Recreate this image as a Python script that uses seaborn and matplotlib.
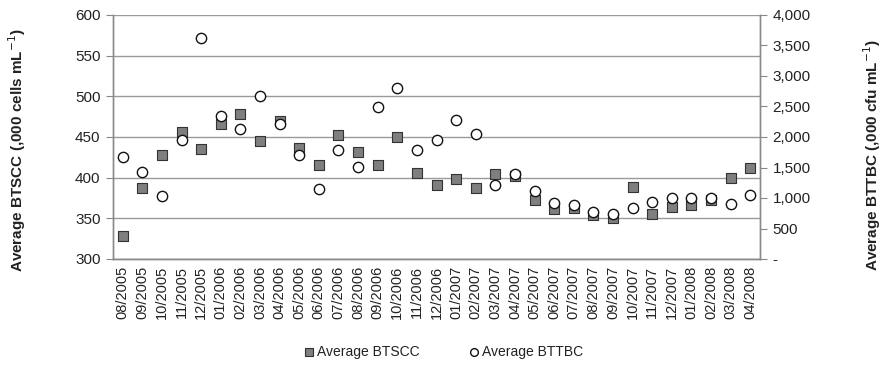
import matplotlib
matplotlib.use("Agg")
import matplotlib.pyplot as plt
import matplotlib.ticker as mticker
import seaborn as sns
import pandas as pd

months = ["08/2005", "09/2005", "10/2005", "11/2005", "12/2005", "01/2006", "02/2006",
          "03/2006", "04/2006", "05/2006", "06/2006", "07/2006", "08/2006", "09/2006",
          "10/2006", "11/2006", "12/2006", "01/2007", "02/2007", "03/2007", "04/2007",
          "05/2007", "06/2007", "07/2007", "08/2007", "09/2007", "10/2007", "11/2007",
          "12/2007", "01/2008", "02/2008", "03/2008", "04/2008"]
btscc = [328, 387, 428, 456, 435, 466, 478, 445, 470, 437, 416, 452, 432, 415, 450,
         406, 391, 398, 387, 405, 402, 372, 361, 363, 354, 351, 389, 355, 364, 367,
         372, 400, 412]
bttbc = [1670, 1420, 1035, 1950, 3630, 2345, 2130, 2675, 2215, 1700, 1145, 1785, 1510,
         2490, 2805, 1785, 1945, 2285, 2055, 1215, 1400, 1120, 915, 890, 775, 735, 830,
         940, 995, 995, 1005, 905, 1055]

df = pd.DataFrame({"month": months, "btscc": btscc, "bttbc": bttbc})

sns.set_style("white")
plt.rcParams["font.family"] = ["Liberation Sans", "DejaVu Sans"]

fig = plt.figure(figsize=(8.85, 3.70), dpi=100)
ax = fig.add_axes([113/885, 1-259/370, (760-113)/885, (259-15)/370])
ax2 = ax.twinx()

sns.scatterplot(data=df, x="month", y="btscc", ax=ax, marker="s", s=55,
                color="#7f7f7f", edgecolor="#333333", linewidth=0.8,
                label="Average BTSCC", legend=False, zorder=3)
sns.scatterplot(data=df, x="month", y="bttbc", ax=ax2, marker="o", s=55,
                color="white", edgecolor="#111111", linewidth=1.0,
                label="Average BTTBC", legend=False, zorder=3)

n = len(months)
ax.set_xlim(-0.5, n - 0.5)
ax.set_ylim(300, 600)
ax2.set_ylim(0, 4000)
ax.set_yticks(range(300, 601, 50))
ax2.set_yticks(range(0, 4001, 500))
ax2.yaxis.set_major_formatter(mticker.FuncFormatter(lambda v, p: "-" if v == 0 else f"{int(v):,}"))

ax.set_xticks(range(n))
ax.set_xticklabels(months, rotation=90, fontsize=10.5, color="#222222")
ax.xaxis.set_minor_locator(mticker.FixedLocator([i - 0.5 for i in range(n + 1)]))
ax.tick_params(axis="x", which="major", length=0, pad=5)
ax.tick_params(axis="x", which="minor", length=5, color="#888888", width=0.8)
ax.tick_params(axis="y", length=5, color="#888888", width=0.8, labelsize=11, labelcolor="#222222", pad=4)
ax2.tick_params(axis="y", length=5, color="#888888", width=0.8, labelsize=11, labelcolor="#222222", pad=4)

ax.yaxis.grid(True, color="#9a9a9a", linewidth=1.0)
ax.set_axisbelow(True)
ax.set_xlabel("")
ax.set_ylabel("")
ax2.set_ylabel("")

for a in (ax, ax2):
    a.spines["top"].set_visible(False)
    for s in ("left", "right", "bottom"):
        a.spines[s].set_color("#8a8a8a")
        a.spines[s].set_linewidth(1.0)

fig.text(17/885, 1-150/370, r"Average BTSCC (,000 cells mL$^{-1}$)", rotation=90,
         ha="center", va="center", fontsize=11, fontweight="bold", color="#222222")
fig.text(872/885, 1-155/370, r"Average BTTBC (,000 cfu mL$^{-1}$)", rotation=90,
         ha="center", va="center", fontsize=11, fontweight="bold", color="#222222")

h1, l1 = ax.get_legend_handles_labels()
h2, l2 = ax2.get_legend_handles_labels()
leg = fig.legend(h1 + h2, ["Average BTSCC", "Average BTTBC"], loc="center",
                 bbox_to_anchor=(442/885, 1-352/370), ncol=2, frameon=False,
                 fontsize=10, handletextpad=0.0, columnspacing=3.3, markerscale=0.75,
                 handlelength=1.2)
for t in leg.get_texts():
    t.set_color("#222222")

fig.savefig("out.png", dpi=100)
